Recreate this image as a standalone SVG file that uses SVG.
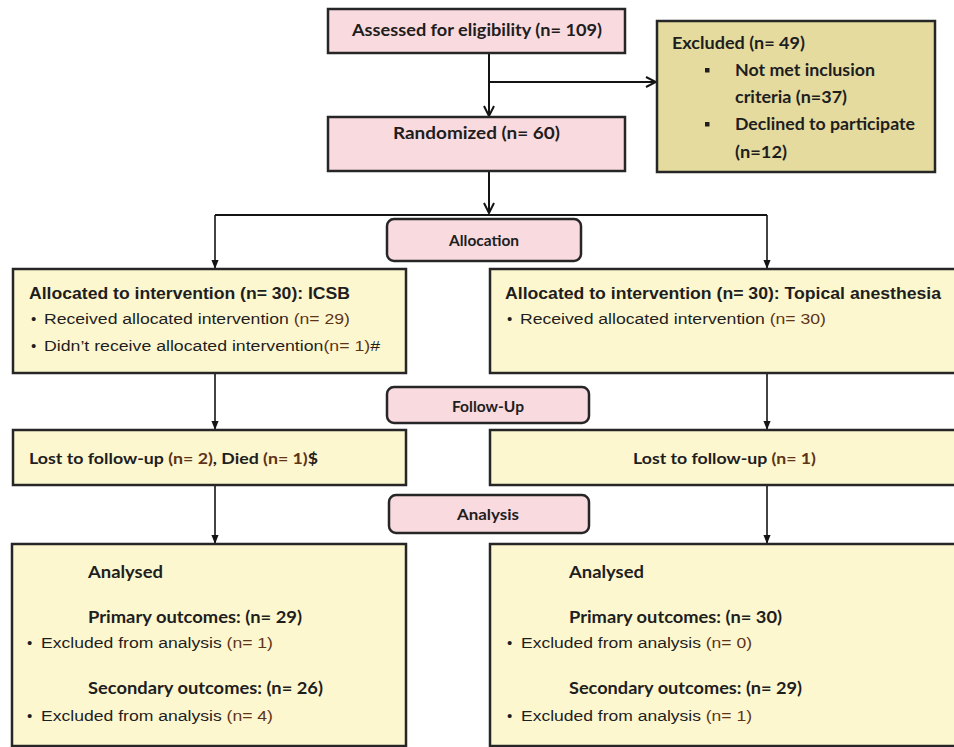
<svg xmlns="http://www.w3.org/2000/svg" width="954" height="747" viewBox="0 0 954 747">
<style>
.pink{fill:#f9dade;stroke:#262626;stroke-width:2.5}
.cream{fill:#fdf7cf;stroke:#262626;stroke-width:2.5}
.khaki{fill:#e5db9f;stroke:#262626;stroke-width:2.5}
.cal{font-family:Lato,"Open Sans","Liberation Sans",sans-serif;font-weight:bold;fill:#1e1e1e}
.arb{font-family:"Liberation Sans",Arial,sans-serif;font-weight:bold;fill:#1e1e1e}
.arr{font-family:"Liberation Sans",Arial,sans-serif;fill:#1e1e1e}
.n{fill:#5e3418}
.con{fill:none;stroke:#141414;stroke-width:2}
.con2{fill:none;stroke:#141414;stroke-width:1.6}
</style>
<defs>
<marker id="vee" viewBox="0 0 12 12" refX="11" refY="6" markerWidth="12" markerHeight="12" markerUnits="userSpaceOnUse" orient="auto">
<path d="M1,1 L11,6 L1,11" fill="none" stroke="#141414" stroke-width="2"/>
</marker>
<marker id="tri" viewBox="0 0 10 10" refX="9" refY="5" markerWidth="9" markerHeight="9" markerUnits="userSpaceOnUse" orient="auto">
<path d="M0,1 L10,5 L0,9 Z" fill="#141414"/>
</marker>
</defs>
<rect width="954" height="747" fill="#ffffff"/>

<g id="connectors">
<path class="con" d="M489,53 V116" marker-end="url(#vee)"/>
<path class="con" d="M489,82 H656" marker-end="url(#vee)"/>
<path class="con" d="M489,171 V213" marker-end="url(#vee)"/>
<path class="con" d="M215,215 H767"/>
<path class="con2" d="M215,215 V268" marker-end="url(#tri)"/>
<path class="con2" d="M767,215 V268" marker-end="url(#tri)"/>
<path class="con2" d="M215,373 V429" marker-end="url(#tri)"/>
<path class="con2" d="M767,373 V429" marker-end="url(#tri)"/>
<path class="con2" d="M215,485 V543" marker-end="url(#tri)"/>
<path class="con2" d="M767,485 V543" marker-end="url(#tri)"/>
</g>

<g id="assessed">
<rect class="pink" x="328" y="9" width="297" height="44"/>
<text class="cal" x="352" y="36" font-size="17" textLength="250" lengthAdjust="spacingAndGlyphs">Assessed for eligibility (n= 109)</text>
</g>

<g id="excluded">
<rect class="khaki" x="657" y="21" width="278" height="151"/>
<text class="cal" x="672" y="49" font-size="17" textLength="133" lengthAdjust="spacingAndGlyphs">Excluded (n= 49)</text>
<rect x="705" y="68" width="4.5" height="4.5" fill="#1e1e1e"/>
<text class="cal" x="735" y="76" font-size="17" textLength="140" lengthAdjust="spacingAndGlyphs">Not met inclusion</text>
<text class="cal" x="735" y="103" font-size="17" textLength="112" lengthAdjust="spacingAndGlyphs">criteria (n=37)</text>
<rect x="705" y="122" width="4.5" height="4.5" fill="#1e1e1e"/>
<text class="cal" x="735" y="130" font-size="17" textLength="180" lengthAdjust="spacingAndGlyphs">Declined to participate</text>
<text class="cal" x="735" y="158" font-size="17" textLength="52" lengthAdjust="spacingAndGlyphs">(n=12)</text>
</g>

<g id="randomized">
<rect class="pink" x="328" y="117" width="297" height="54"/>
<text class="cal" x="393" y="139" font-size="17" textLength="167" lengthAdjust="spacingAndGlyphs">Randomized (n= 60)</text>
</g>

<g id="allocation">
<rect class="pink" x="387" y="219" width="194" height="42" rx="7"/>
<text class="cal" x="484" y="246" font-size="16" text-anchor="middle" textLength="70" lengthAdjust="spacingAndGlyphs">Allocation</text>
</g>

<g id="alloc-icsb">
<rect class="cream" x="13" y="269" width="393" height="104"/>
<text class="arb" x="29" y="299" font-size="16" textLength="321" lengthAdjust="spacingAndGlyphs">Allocated to intervention (n= 30): ICSB</text>
<text class="arr" x="31" y="324" font-size="15">•</text>
<text class="arr" x="44" y="324" font-size="15.5" textLength="306" lengthAdjust="spacingAndGlyphs">Received allocated intervention <tspan class="n">(n= 29)</tspan></text>
<text class="arr" x="31" y="351" font-size="15">•</text>
<text class="arr" x="44" y="351" font-size="15.5" textLength="336" lengthAdjust="spacingAndGlyphs">Didn’t receive allocated intervention<tspan class="n">(n= 1)</tspan>#</text>
</g>

<g id="alloc-topical">
<rect class="cream" x="490" y="269" width="470" height="104"/>
<text class="arb" x="505" y="299" font-size="16" textLength="436" lengthAdjust="spacingAndGlyphs">Allocated to intervention (n= 30): Topical anesthesia</text>
<text class="arr" x="507" y="324" font-size="15">•</text>
<text class="arr" x="520" y="324" font-size="15.5" textLength="306" lengthAdjust="spacingAndGlyphs">Received allocated intervention <tspan class="n">(n= 30)</tspan></text>
</g>

<g id="followup">
<rect class="pink" x="387" y="387" width="202" height="36" rx="7"/>
<text class="cal" x="488" y="412" font-size="16" text-anchor="middle" textLength="72" lengthAdjust="spacingAndGlyphs">Follow-Up</text>
</g>

<g id="lost-icsb">
<rect class="cream" x="13" y="430" width="393" height="55"/>
<text class="cal" x="29" y="464" font-size="16" textLength="289" lengthAdjust="spacingAndGlyphs">Lost to follow-up <tspan class="n">(n= 2)</tspan>, Died <tspan class="n">(n= 1)</tspan>$</text>
</g>

<g id="lost-topical">
<rect class="cream" x="490" y="430" width="470" height="55"/>
<text class="cal" x="633" y="464" font-size="16" textLength="183" lengthAdjust="spacingAndGlyphs">Lost to follow-up <tspan class="n">(n= 1)</tspan></text>
</g>

<g id="analysis">
<rect class="pink" x="389" y="495" width="200" height="38" rx="7"/>
<text class="cal" x="488" y="520" font-size="16" text-anchor="middle" textLength="62" lengthAdjust="spacingAndGlyphs">Analysis</text>
</g>

<g id="analysed-icsb">
<rect class="cream" x="12" y="544" width="394" height="202"/>
<text class="cal" x="88" y="578" font-size="17" textLength="75" lengthAdjust="spacingAndGlyphs">Analysed</text>
<text class="cal" x="88" y="623" font-size="17" textLength="214" lengthAdjust="spacingAndGlyphs">Primary outcomes: (n= 29)</text>
<text class="arr" x="27" y="648" font-size="15">•</text>
<text class="arr" x="41" y="648" font-size="15.5" textLength="232" lengthAdjust="spacingAndGlyphs">Excluded from analysis <tspan class="n">(n= 1)</tspan></text>
<text class="cal" x="88" y="694" font-size="17" textLength="235" lengthAdjust="spacingAndGlyphs">Secondary outcomes: (n= 26)</text>
<text class="arr" x="27" y="721" font-size="15">•</text>
<text class="arr" x="41" y="721" font-size="15.5" textLength="232" lengthAdjust="spacingAndGlyphs">Excluded from analysis <tspan class="n">(n= 4)</tspan></text>
</g>

<g id="analysed-topical">
<rect class="cream" x="490" y="544" width="470" height="202"/>
<text class="cal" x="569" y="578" font-size="17" textLength="75" lengthAdjust="spacingAndGlyphs">Analysed</text>
<text class="cal" x="569" y="623" font-size="17" textLength="213" lengthAdjust="spacingAndGlyphs">Primary outcomes: (n= 30)</text>
<text class="arr" x="507" y="648" font-size="15">•</text>
<text class="arr" x="521" y="648" font-size="15.5" textLength="231" lengthAdjust="spacingAndGlyphs">Excluded from analysis <tspan class="n">(n= 0)</tspan></text>
<text class="cal" x="569" y="694" font-size="17" textLength="233" lengthAdjust="spacingAndGlyphs">Secondary outcomes: (n= 29)</text>
<text class="arr" x="507" y="721" font-size="15">•</text>
<text class="arr" x="521" y="721" font-size="15.5" textLength="231" lengthAdjust="spacingAndGlyphs">Excluded from analysis <tspan class="n">(n= 1)</tspan></text>
</g>
</svg>
